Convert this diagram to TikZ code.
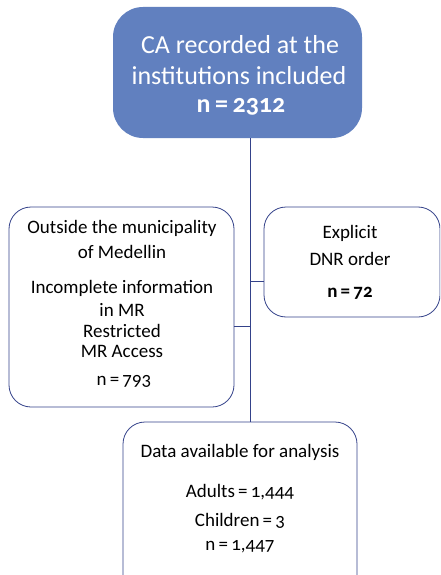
\documentclass[tikz,border=0pt]{standalone}
\usepackage{fontspec}
\setmainfont{Carlito}[Numbers=OldStyle]
\definecolor{topfill}{HTML}{6180BF}
\definecolor{navy}{HTML}{34428A}
\newcommand{\eqsp}{\hspace{3.2pt}=\hspace{3.2pt}}
\begin{document}
\begin{tikzpicture}[x=1pt,y=-1pt,
  box/.style={draw=navy,line width=0.8pt,rounded corners=22pt,inner sep=0pt,fill=white},
  lab/.style={inner sep=0pt,font=\fontsize{19}{22}\selectfont,text=black,anchor=center},
  toplab/.style={inner sep=0pt,font=\fontsize{26}{30}\selectfont,text=white,anchor=center},
  conn/.style={draw=navy,line width=0.8pt}]
\useasboundingbox (0,0) rectangle (440,575);
\clip (0,0) rectangle (440,575);
% boxes
\node[box,fill=topfill,draw=none,rounded corners=30pt,minimum width=249pt,minimum height=131pt] (top) at (237.5,72.5) {};
\node[box,minimum width=225pt,minimum height=200pt] (left) at (121.5,307) {};
\node[box,minimum width=176pt,minimum height=110pt] (right) at (352,262) {};
\node[box,minimum width=234pt,minimum height=175pt] (bottom) at (240,509.5) {};
% connectors
\coordinate (topb) at (250,138);
\coordinate (jr) at (250,281);
\coordinate (jl) at (250,326);
\draw[conn] (topb) -- (topb |- bottom.north);
\draw[conn] (jr) -- (jr -| right.west);
\draw[conn] (jl -| left.east) -- (jl);
% top text
\node[toplab] (t1) at (240,45) {CA recorded at the};
\node[toplab] (t2) at (239,76) {institutions included};
\node[toplab] (t3) at (241,107) {\bfseries n\hspace{4.5pt}=\hspace{4.5pt}2312};
% left text
\node[lab] (l1) at (122,228) {Outside the municipality};
\node[lab] (l2) at (122,252) {of Medellin};
\node[lab] (l3) at (122,288) {Incomplete information};
\node[lab] (l4) at (122,310) {in MR};
\node[lab] (l5) at (122,331) {Restricted};
\node[lab] (l6) at (122,351) {MR Access};
\node[lab] (l7) at (124,381) {n\eqsp793};
% right text
\node[lab] (r1) at (350,233) {Explicit};
\node[lab] (r2) at (350,259) {DNR order};
\node[lab] (r3) at (350,293) {\bfseries n\eqsp72};
% bottom text
\node[lab] (b1) at (240,452) {Data available for analysis};
\node[lab] (b2) at (240,492) {Adults\eqsp1,444};
\node[lab] (b3) at (240,521) {Children\eqsp3};
\node[lab] (b4) at (240,547) {n\eqsp1,447};
\end{tikzpicture}
\end{document}
